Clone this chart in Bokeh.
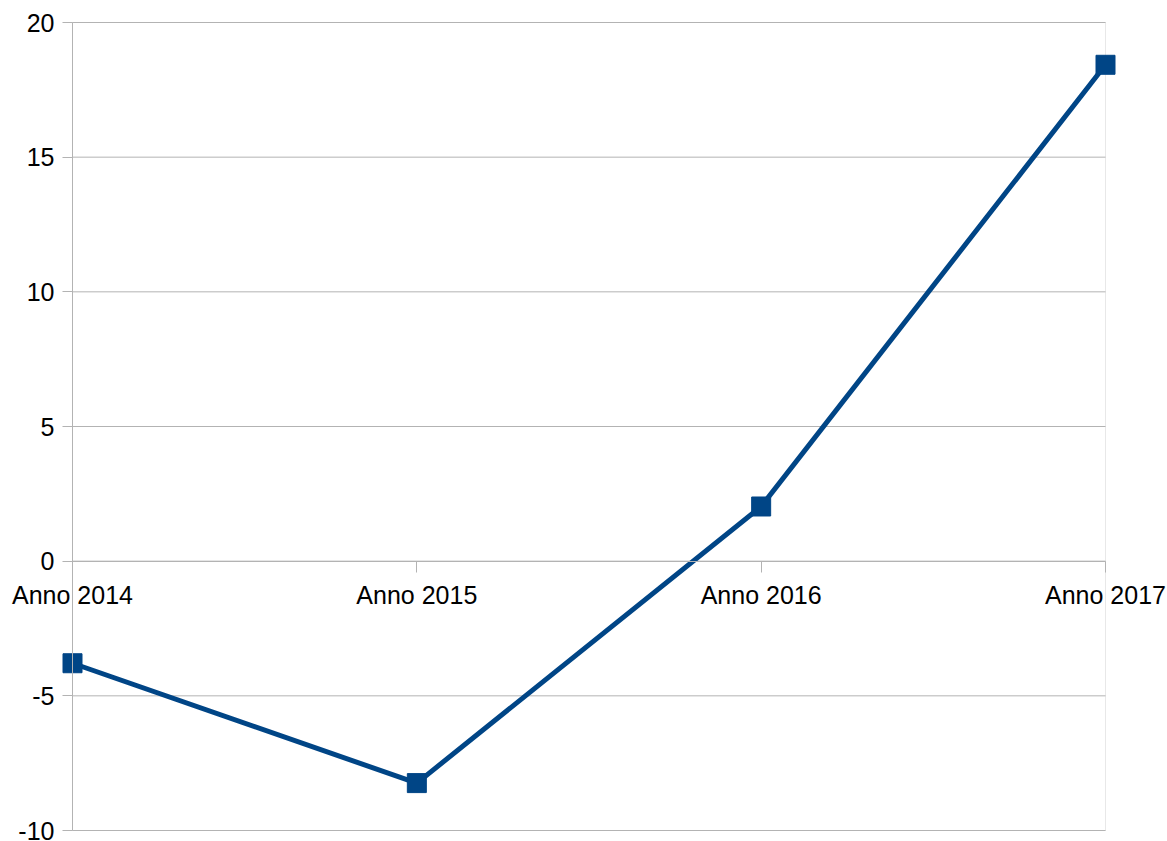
from bokeh.plotting import figure
from bokeh.models import Range1d, FixedTicker, ColumnDataSource, PrintfTickFormatter, BoxAnnotation
from bokeh.embed import file_html
from bokeh.resources import INLINE

# Yearly series
categories = ["Anno 2014", "Anno 2015", "Anno 2016", "Anno 2017"]
values = [-3.79, -8.24, 2.03, 18.43]
y_ticks = [-10, -5, 0, 5, 10, 15, 20]

positions = list(range(len(categories)))
source = ColumnDataSource(data=dict(x=positions, y=values))

LINE = "#004586"
GRID = "#b3b3b3"
FONT = "Liberation Sans"

W, H = 1167, 841
# plot-area margins in screen pixels
PAD_L, PAD_R, PAD_T, PAD_B = 72, 62, 22, 11

x_lo, x_hi = positions[0], positions[-1]
y_lo, y_hi = y_ticks[0], y_ticks[-1]
x_px = (x_hi - x_lo) / (W - PAD_L - PAD_R)
y_px = (y_hi - y_lo) / (H - PAD_T - PAD_B)

p = figure(
    width=W, height=H, min_border=0,
    x_range=Range1d(x_lo - PAD_L * x_px, x_hi + PAD_R * x_px),
    y_range=Range1d(y_lo - PAD_B * y_px, y_hi + PAD_T * y_px),
    output_backend="svg", toolbar_location=None,
)
p.background_fill_color = "white"
p.border_fill_color = "white"
p.outline_line_color = None
p.grid.grid_line_color = None

# horizontal grid lines across the plot area
p.segment(x0=[x_lo] * len(y_ticks), x1=[x_hi] * len(y_ticks), y0=y_ticks, y1=y_ticks,
          line_color=GRID, line_width=1)
# plot-area border
p.add_layout(BoxAnnotation(left=x_lo, right=x_hi, bottom=y_lo, top=y_hi,
                           fill_color=None, line_color=GRID, line_width=1, level="underlay"))

p.line("x", "y", source=source, line_color=LINE, line_width=5)
p.scatter("x", "y", source=source, marker="square", size=19,
          fill_color=LINE, line_color=LINE)

# category axis crossing at zero
xa = p.xaxis[0]
xa.fixed_location = 0
xa.bounds = (x_lo, x_hi)
xa.ticker = FixedTicker(ticks=positions)
xa.major_label_overrides = {i: c for i, c in enumerate(categories)}
xa.axis_line_color = GRID
xa.major_tick_line_color = GRID
xa.major_tick_in = 0
xa.major_tick_out = 11
xa.minor_tick_line_color = None
xa.major_label_standoff = 9
xa.major_label_text_font = FONT
xa.major_label_text_font_size = "25px"
xa.major_label_text_color = "black"

ya = p.yaxis[0]
ya.fixed_location = x_lo
ya.bounds = (y_lo, y_hi)
ya.ticker = FixedTicker(ticks=y_ticks)
ya.formatter = PrintfTickFormatter(format="%d")
ya.axis_line_color = GRID
ya.major_tick_line_color = GRID
ya.major_tick_in = 0
ya.major_tick_out = 10
ya.minor_tick_line_color = None
ya.major_label_standoff = 8
ya.major_label_text_font = FONT
ya.major_label_text_font_size = "25px"
ya.major_label_text_color = "black"

open("out.html", "w").write(file_html(p, INLINE))
